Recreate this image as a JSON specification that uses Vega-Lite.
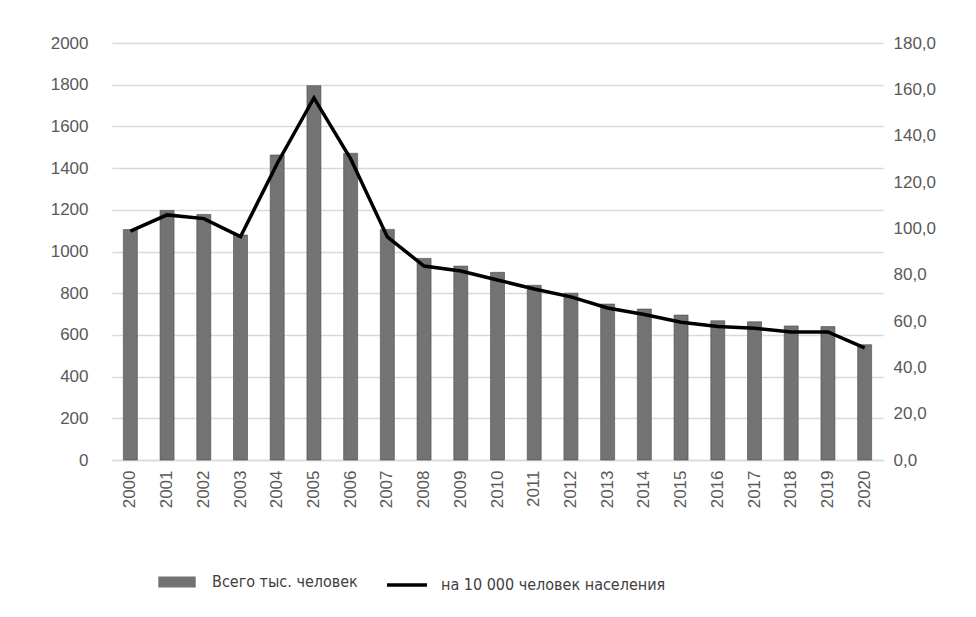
{
  "$schema": "https://vega.github.io/schema/vega-lite/v6.json",
  "width": 771,
  "height": 417,
  "autosize": {"type": "none"},
  "padding": {"left": 112, "top": 43, "right": 93, "bottom": 157},
  "background": "white",
  "config": {
    "locale": {"number": {"decimal": ",", "thousands": " ", "grouping": [3], "currency": ["", ""]}},
    "view": {"stroke": null},
    "font": "Liberation Sans",
    "axis": {"labelFont": "Liberation Sans", "labelFontSize": 17, "labelColor": "#595959", "ticks": false, "domain": false, "gridColor": "#d9d9d9", "gridWidth": 1.3, "title": null},
    "legend": {"labelFont": "DejaVu Sans Condensed, Liberation Sans", "labelFontSize": 16, "labelColor": "#404040", "padding": 0, "title": null, "labelLimit": 500}
  },
  "data": {"values": [
    {"year": "2000", "total": 1105, "per10k": 98.8},
    {"year": "2001", "total": 1197, "per10k": 105.8},
    {"year": "2002", "total": 1178, "per10k": 104.2},
    {"year": "2003", "total": 1079, "per10k": 96.4},
    {"year": "2004", "total": 1463, "per10k": 128.0},
    {"year": "2005", "total": 1795, "per10k": 156.3},
    {"year": "2006", "total": 1471, "per10k": 130.0},
    {"year": "2007", "total": 1106, "per10k": 96.3},
    {"year": "2008", "total": 967, "per10k": 83.7},
    {"year": "2009", "total": 930, "per10k": 81.6},
    {"year": "2010", "total": 900, "per10k": 77.7},
    {"year": "2011", "total": 838, "per10k": 73.8},
    {"year": "2012", "total": 800, "per10k": 70.4},
    {"year": "2013", "total": 748, "per10k": 65.6},
    {"year": "2014", "total": 724, "per10k": 62.8},
    {"year": "2015", "total": 695, "per10k": 59.5},
    {"year": "2016", "total": 668, "per10k": 57.6},
    {"year": "2017", "total": 663, "per10k": 56.9},
    {"year": "2018", "total": 643, "per10k": 55.3},
    {"year": "2019", "total": 640, "per10k": 55.3},
    {"year": "2020", "total": 553, "per10k": 48.4}
  ]},
  "encoding": {
    "x": {"field": "year", "type": "ordinal", "scale": {"paddingInner": 0.62, "paddingOuter": 0.31}, "axis": {"labelAngle": -90, "labelPadding": 10, "grid": false, "domain": true, "domainColor": "#d9d9d9", "domainWidth": 1.3}}
  },
  "layer": [
    {
      "mark": {"type": "bar", "size": 14, "stroke": "#4a4a4a", "strokeWidth": 0.6},
      "encoding": {
        "y": {"field": "total", "type": "quantitative", "scale": {"domain": [0, 2000]}, "axis": {"values": [0, 200, 400, 600, 800, 1000, 1200, 1400, 1600, 1800, 2000], "format": "d", "labelPadding": 24}},
        "fill": {"datum": "Всего тыс. человек", "type": "nominal", "scale": {"range": ["#737373"]}, "legend": {"orient": "none", "legendX": 46, "legendY": 520, "symbolType": "M-1,-0.3H1V0.3H-1Z", "symbolSize": 1400, "symbolStrokeWidth": 0, "labelOffset": 16}}
      }
    },
    {
      "mark": {"type": "line", "color": "black", "strokeWidth": 3.5},
      "encoding": {
        "y": {"field": "per10k", "type": "quantitative", "scale": {"domain": [0, 180]}, "axis": {"orient": "right", "values": [0, 20, 40, 60, 80, 100, 120, 140, 160, 180], "format": ".1f", "grid": false, "labelPadding": 10}},
        "stroke": {"datum": "на 10 000 человек населения", "type": "nominal", "scale": {"range": ["black"]}, "legend": {"orient": "none", "legendX": 273, "legendY": 520, "symbolType": "stroke", "symbolSize": 1600, "symbolStrokeWidth": 3.5, "labelOffset": 12}}
      }
    }
  ],
  "resolve": {"scale": {"y": "independent"}}
}
